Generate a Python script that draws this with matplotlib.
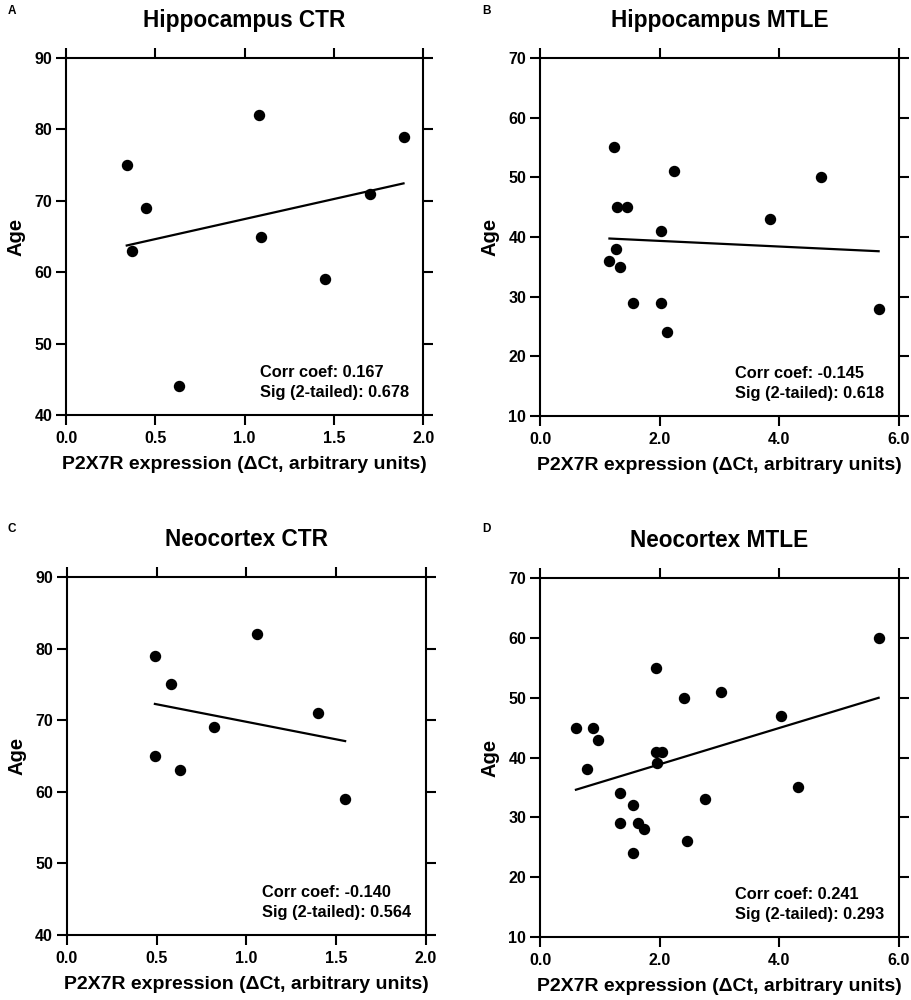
import numpy as np
import matplotlib.pyplot as plt

plt.rcParams['font.family'] = ['Liberation Sans', 'DejaVu Sans']
plt.rcParams['font.weight'] = 'bold'

# Hippocampus CTR
hip_ctr_x = [0.34, 0.37, 0.45, 0.63, 1.08, 1.09, 1.45, 1.70, 1.89]
hip_ctr_age = [75, 63, 69, 44, 82, 65, 59, 71, 79]

# Hippocampus MTLE
hip_mtle_x = [1.24, 2.24, 4.70, 1.29, 1.46, 3.85, 2.02, 1.27, 1.16, 1.34,
              1.56, 2.02, 2.12, 5.66]
hip_mtle_age = [55, 51, 50, 45, 45, 43, 41, 38, 36, 35, 29, 29, 24, 28]

# Neocortex CTR
neo_ctr_x = [0.49, 0.58, 1.06, 0.82, 1.40, 0.49, 0.63, 1.55]
neo_ctr_age = [79, 75, 82, 69, 71, 65, 63, 59]

# Neocortex MTLE
neo_mtle_x = [5.66, 1.94, 3.02, 2.40, 4.02, 0.60, 0.88, 0.97, 1.94, 2.04,
              1.95, 0.79, 4.32, 1.33, 2.76, 1.56, 1.34, 1.63, 1.74, 2.46, 1.56]
neo_mtle_age = [60, 55, 51, 50, 47, 45, 45, 43, 41, 41, 39, 38, 35, 34, 33,
                32, 29, 29, 28, 26, 24]

panels = [
    ("A", "Hippocampus CTR", hip_ctr_x, hip_ctr_age, (0.0, 2.0), (40, 90),
     [0.0, 0.5, 1.0, 1.5, 2.0], "0.167", "0.678"),
    ("B", "Hippocampus MTLE", hip_mtle_x, hip_mtle_age, (0.0, 6.0), (10, 70),
     [0.0, 2.0, 4.0, 6.0], "-0.145", "0.618"),
    ("C", "Neocortex CTR", neo_ctr_x, neo_ctr_age, (0.0, 2.0), (40, 90),
     [0.0, 0.5, 1.0, 1.5, 2.0], "-0.140", "0.564"),
    ("D", "Neocortex MTLE", neo_mtle_x, neo_mtle_age, (0.0, 6.0), (10, 70),
     [0.0, 2.0, 4.0, 6.0], "0.241", "0.293"),
]

# axes rectangles (figure fraction) and panel letter positions
rects = [
    [0.0725, 0.585, 0.392, 0.357],
    [0.5928, 0.584, 0.394, 0.358],
    [0.0735, 0.065, 0.394, 0.358],
    [0.5928, 0.063, 0.394, 0.359],
]
letter_pos = [(0.008, 0.986), (0.529, 0.986), (0.008, 0.468), (0.529, 0.468)]

fig = plt.figure(figsize=(9.11, 10), dpi=100)

for (letter, title, x, y, xlim, ylim, xticks, corr, sig), rect, lp in zip(panels, rects, letter_pos):
    ax = fig.add_axes(rect)
    x = np.array(x)
    y = np.array(y)
    ax.plot(x, y, 'o', color='black', markersize=7.2, clip_on=False, zorder=3)

    # linear regression line over the data range
    slope, intercept = np.polyfit(x, y, 1)
    xs = np.array([x.min(), x.max()])
    ax.plot(xs, slope * xs + intercept, color='black', linewidth=1.6)

    ax.set_xlim(*xlim)
    ax.set_ylim(*ylim)
    ax.set_xticks(xticks)
    ax.set_xticklabels([f"{t:.1f}" for t in xticks])
    ax.set_yticks(np.arange(ylim[0], ylim[1] + 1, 10))

    for sp in ax.spines.values():
        sp.set_linewidth(1.5)
    ax.tick_params(direction='out', length=7, width=1.5, top=True, right=True,
                   labelsize=11.5)
    ax.tick_params(axis='y', pad=3)
    ax.tick_params(axis='x', pad=4.5)

    ax.set_xlabel("P2X7R expression (ΔCt, arbitrary units)", fontsize=14,
                  fontweight='bold', labelpad=7)
    ax.set_ylabel("Age", fontsize=14.5, fontweight='bold')
    ax.yaxis.set_label_coords(-0.113, 0.5)

    ax.text(0.5, 1.087, title, transform=ax.transAxes, ha='center',
            va='baseline', fontsize=16.3, fontweight='bold')

    ax.text(0.543, 0.106, f"Corr coef: {corr}", transform=ax.transAxes,
            va='baseline', fontsize=11.8, fontweight='bold')
    ax.text(0.543, 0.050, f"Sig (2-tailed): {sig}", transform=ax.transAxes,
            va='baseline', fontsize=11.8, fontweight='bold')

    fig.text(lp[0], lp[1], letter, fontsize=8.5, fontweight='bold',
             va='baseline')

fig.savefig("out.png", dpi=100)
